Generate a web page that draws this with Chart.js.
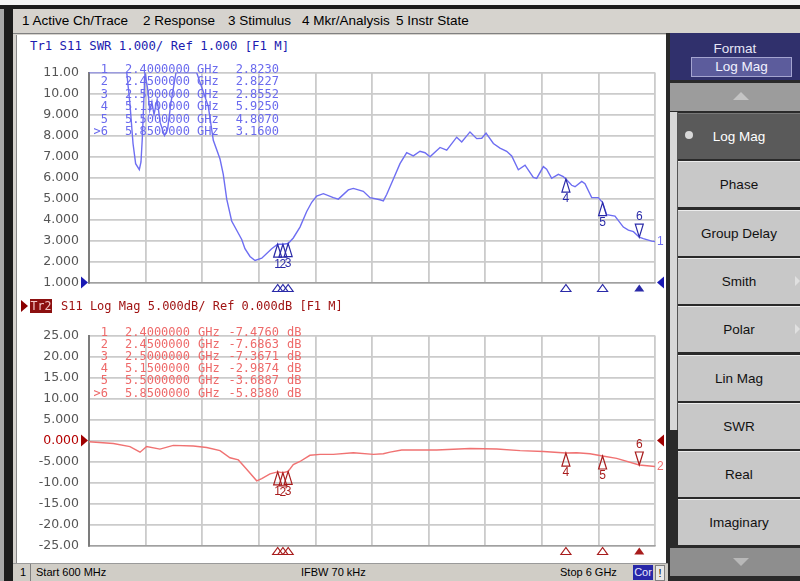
<!DOCTYPE html>
<html><head><meta charset="utf-8">
<script src="https://cdn.jsdelivr.net/npm/chart.js@4.4.1/dist/chart.umd.min.js"></script>
<style>
html,body{margin:0;padding:0;}
body{width:800px;height:581px;position:relative;overflow:hidden;background:#fff;font-family:"Liberation Sans",Arial,sans-serif;}
.b{position:absolute;}
.t{position:absolute;white-space:pre;line-height:14px;}
.mono{font-family:"DejaVu Sans Mono",monospace;font-size:12px;}
canvas{position:absolute;}
.btn{position:absolute;left:678px;width:122px;height:45px;background:#c8c8c8;border-top:1px solid #ececec;color:#111;font-size:13.5px;line-height:45px;text-align:center;}
</style></head><body>
<div class="b" style="left:0;top:0;width:800px;height:5px;background:#f4f4f4"></div>
<div class="b" style="left:0;top:5px;width:800px;height:4px;background:#1c1c1c"></div>
<div class="b" style="left:0;top:9px;width:4px;height:572px;background:#a8a8a8"></div>
<div class="b" style="left:4px;top:9px;width:9px;height:572px;background:#1c1c1c"></div>
<div class="b" id="menu" style="left:13px;top:9px;width:787px;height:24px;background:#d6d3ce;border-bottom:1px solid #808080"></div>
<div class="b" style="left:13px;top:34px;width:655px;height:529px;background:#d6d3ce"></div>
<div class="b" style="left:16px;top:35px;width:651px;height:528px;background:#fff;border-left:1px solid #8a8a8a"></div>
<div class="b" id="right" style="left:666px;top:33px;width:134px;height:548px;background:#2a2a2a"></div>
<canvas id="c1" width="650" height="245" style="left:18px;top:55px"></canvas>
<canvas id="c2" width="650" height="245" style="left:18px;top:318px"></canvas>
<div class="b" id="status" style="left:13px;top:563px;width:655px;height:18px;background:#d0cdc6;border-top:1px solid #9a9a9a"></div>
<script>
// ---- data ----
const topFreq = [0.60,0.96,0.99,1.02,1.045,1.08,1.096,1.109,1.122,1.134,1.16,1.18,1.20,1.22,1.25,1.28,1.32,1.35,1.38,1.43,1.627,1.738,1.786,1.85,1.881,1.914,1.961,2.009,2.057,2.088,2.136,2.184,2.248,2.343,2.40,2.45,2.50,2.549,2.613,2.677,2.725,2.772,2.836,2.931,2.979,3.074,3.122,3.217,3.281,3.376,3.408,3.44,3.503,3.567,3.631,3.694,3.758,3.806,3.853,3.949,4.013,4.108,4.156,4.235,4.299,4.347,4.388,4.458,4.521,4.585,4.633,4.696,4.760,4.839,4.871,4.935,4.966,5.014,5.078,5.125,5.15,5.205,5.237,5.301,5.332,5.396,5.459,5.50,5.539,5.618,5.698,5.746,5.794,5.85,5.889,5.969,6.00];
const topSwr  = [11,11,9.54,7.62,6.66,6.37,6.74,7.92,9.54,11,10.2,9.2,9.6,9.0,9.7,8.6,8.0,8.3,9.5,11,11,9.39,7.77,6.88,6.15,4.97,3.93,3.49,3.05,2.61,2.24,2.05,2.16,2.61,2.823,2.8227,2.8552,3.12,3.64,4.38,4.82,5.12,5.23,5.04,4.97,5.41,5.48,5.34,5.04,4.94,4.89,5.19,5.92,6.66,7.18,7.03,7.25,7.18,6.99,7.43,7.30,7.92,7.69,8.17,7.85,7.87,8.11,7.62,7.40,7.25,7.03,6.37,6.59,6.00,5.96,6.52,6.40,5.96,6.15,6.04,5.925,5.63,5.56,5.81,5.70,5.04,5.04,4.807,4.23,4.16,3.64,3.49,3.42,3.16,3.09,2.97,2.95];
const botFreq = [0.60,0.832,0.991,1.087,1.15,1.277,1.404,1.595,1.723,1.85,1.945,2.025,2.104,2.20,2.248,2.327,2.40,2.45,2.50,2.549,2.613,2.708,2.804,2.931,3.122,3.313,3.408,3.472,3.583,3.917,4.235,4.49,4.713,4.935,5.15,5.253,5.38,5.50,5.634,5.85,6.00];
const botDb   = [-0.3,-0.7,-1.44,-2.78,-1.44,-2.04,-1.15,-1.30,-1.67,-2.40,-4.11,-4.63,-6.85,-9.6,-9.07,-7.96,-7.476,-7.6863,-7.3671,-5.74,-5.0,-3.52,-3.30,-3.30,-2.93,-3.30,-3.15,-2.78,-2.26,-2.26,-1.89,-2.04,-2.41,-2.63,-2.9874,-2.93,-3.15,-3.6887,-4.26,-5.838,-6.2];
const markerFreq = [2.40,2.45,2.50,5.15,5.50,5.85];
const markerSwr  = [2.8230,2.8227,2.8552,5.9250,4.8070,3.1600];
const markerDb   = [-7.4760,-7.6863,-7.3671,-2.9874,-3.6887,-5.8380];
const activeMarker = 5;
const xGridGHz = [0.6,1.14,1.68,2.22,2.76,3.3,3.84,4.38,4.92,5.46,6.0];
const topYTicks = [11,10,9,8,7,6,5,4,3,2,1];
const botYTicks = [25,20,15,10,5,0,-5,-10,-15,-20,-25];
const menuItems = [["1 Active Ch/Trace",22],["2 Response",143],["3 Stimulus",228],["4 Mkr/Analysis",302],["5 Instr State",396]];
const softkeys = ["Log Mag","Phase","Group Delay","Smith","Polar","Lin Mag","SWR","Real","Imaginary"];

// ---- helpers ----
function addDiv(txt, css, cls){ const d=document.createElement('div'); d.className=cls||'t'; d.textContent=txt; Object.assign(d.style,css); document.body.appendChild(d); return d; }
function tri(css){ const d=document.createElement('div'); d.className='b'; Object.assign(d.style,{width:'0',height:'0'},css); document.body.appendChild(d); return d; }

// menu
menuItems.forEach(([s,x])=>addDiv(s,{left:x+'px',top:'14px',fontSize:'13.5px',color:'#000'}));

// right panel
addDiv('',{left:'670px',top:'33px',width:'130px',height:'47px',background:'#30306c'},'b');
addDiv('Format',{left:'670px',top:'42px',width:'130px',textAlign:'center',fontSize:'13.5px',color:'#e6e6f6'});
addDiv('Log Mag',{left:'691px',top:'57px',width:'99px',height:'18px',lineHeight:'18px',textAlign:'center',fontSize:'13.5px',color:'#f2f2ff',background:'#5c5c9c',border:'1px solid #a4a4d0'});
addDiv('',{left:'670px',top:'83px',width:'130px',height:'28px',background:'#9c9c9c'},'b');
tri({left:'733px',top:'92px',borderLeft:'8px solid transparent',borderRight:'8px solid transparent',borderBottom:'8px solid #c4c4c4'});
addDiv('',{left:'670px',top:'112px',width:'7px',height:'318px',background:'#d8d8d8',borderRight:'1px solid #555'},'b');
softkeys.forEach((s,i)=>{
  const d=addDiv(s,{top:(113+i*48.3)+'px'},'btn');
  if(i===0){ d.style.background='#5a5a5a'; d.style.color='#fff'; d.style.borderTop='1px solid #777';
    addDiv('',{left:'685px',top:(113+22-4)+'px',width:'8px',height:'8px',borderRadius:'4px',background:'#d8d8d8'},'b'); }
  if(s==='Smith'||s==='Polar'){ tri({left:'795px',top:(113+i*48.3+18)+'px',borderTop:'5px solid transparent',borderBottom:'5px solid transparent',borderLeft:'5px solid #e0e0e0'}); }
});
addDiv('',{left:'670px',top:'548px',width:'130px',height:'28px',background:'#8e8e8e'},'b');
tri({left:'733px',top:'558px',borderLeft:'8px solid transparent',borderRight:'8px solid transparent',borderTop:'8px solid #b8b8b8'});

// status bar
addDiv('1',{left:'20px',top:'565px',fontSize:'11px',color:'#000'});
addDiv('',{left:'30px',top:'564px',width:'1px',height:'17px',background:'#808080'},'b');
addDiv('Start 600 MHz',{left:'36px',top:'565px',fontSize:'11px',color:'#000'});
addDiv('IFBW 70 kHz',{left:'301px',top:'565px',fontSize:'11px',color:'#000'});
addDiv('Stop 6 GHz',{left:'560px',top:'565px',fontSize:'11px',color:'#000'});
addDiv('Cor',{left:'633px',top:'565px',width:'20px',height:'15px',lineHeight:'15px',textAlign:'center',fontSize:'11px',color:'#e8e8ff',background:'#2828a8'});
addDiv('!',{left:'655px',top:'565px',width:'8px',height:'14px',lineHeight:'14px',textAlign:'center',fontSize:'11px',color:'#000',border:'1px solid #808080',background:'#e8e8e8'});

// titles
addDiv('Tr1 S11 SWR 1.000/ Ref 1.000 [F1 M]',{left:'30px',top:'39px',fontSize:'12.3px',color:'#1c1cb0'},'t mono');
tri({left:'21px',top:'300px',borderTop:'6px solid transparent',borderBottom:'6px solid transparent',borderLeft:'7px solid #8a0000'});
addDiv('Tr2',{left:'30px',top:'299px',width:'22px',height:'14px',textAlign:'center',fontSize:'11.5px',color:'#f4c8c8',background:'#8c1010'},'t mono');
addDiv('S11 Log Mag 5.000dB/ Ref 0.000dB [F1 M]',{left:'61px',top:'299px',fontSize:'12px',color:'#a01414'},'t mono');

// marker tables
markerFreq.forEach((f,i)=>{
  const lab = (i===activeMarker?'>':'')+(i+1);
  const yt = 62 + i*12.4, yb = 325 + i*12.1;
  const ct = {fontSize:'12px',color:'#6a6aee'}, cb = {fontSize:'12px',color:'#ee6a6a'};
  addDiv(lab,Object.assign({right:(800-108)+'px',top:yt+'px'},ct),'t mono');
  addDiv(f.toFixed(7),Object.assign({left:'125px',top:yt+'px'},ct),'t mono');
  addDiv('GHz',Object.assign({left:'197px',top:yt+'px'},ct),'t mono');
  addDiv(markerSwr[i].toFixed(4),Object.assign({right:(800-279)+'px',top:yt+'px'},ct),'t mono');
  addDiv(lab,Object.assign({right:(800-108)+'px',top:yb+'px'},cb),'t mono');
  addDiv(f.toFixed(7),Object.assign({left:'125px',top:yb+'px'},cb),'t mono');
  addDiv('GHz',Object.assign({left:'198px',top:yb+'px'},cb),'t mono');
  addDiv(markerDb[i].toFixed(4),Object.assign({right:(800-279)+'px',top:yb+'px'},cb),'t mono');
  addDiv('dB',Object.assign({left:'287px',top:yb+'px'},cb),'t mono');
});

// ---- charts ----
function fmt(v){ return (Math.abs(v)>=10) ? v.toFixed(2) : v.toFixed(3); }
function vnaPlugin(o){ return {
  id:'vna'+o.key,
  afterDatasetsDraw(chart){
    const ctx=chart.ctx, xs=chart.scales.x, ys=chart.scales.y, a=chart.chartArea;
    ctx.save();
    ctx.font='12px "Liberation Sans", Arial, sans-serif';
    ctx.textAlign='center'; ctx.textBaseline='middle';
    markerFreq.forEach((f,i)=>{
      const x=xs.getPixelForValue(f), y=ys.getPixelForValue(o.vals[i]);
      ctx.strokeStyle=o.mk; ctx.fillStyle=o.mk; ctx.lineWidth=1.2;
      ctx.beginPath();
      if(i===activeMarker){
        ctx.moveTo(x,y); ctx.lineTo(x-4,y-13); ctx.lineTo(x+4,y-13); ctx.closePath(); ctx.stroke();
        ctx.fillText(String(i+1),x,y-20);
      } else {
        ctx.moveTo(x,y); ctx.lineTo(x-4,y+13); ctx.lineTo(x+4,y+13); ctx.closePath(); ctx.stroke();
        ctx.fillText(String(i+1),x,y+20);
      }
      const by=a.bottom+2;
      ctx.beginPath(); ctx.moveTo(x,by); ctx.lineTo(x-5,by+7); ctx.lineTo(x+5,by+7); ctx.closePath();
      if(i===activeMarker) ctx.fill(); else ctx.stroke();
    });
    const ry=ys.getPixelForValue(o.ref);
    ctx.fillStyle=o.refc;
    ctx.beginPath(); ctx.moveTo(a.left-8,ry-6); ctx.lineTo(a.left-1,ry); ctx.lineTo(a.left-8,ry+6); ctx.closePath(); ctx.fill();
    ctx.beginPath(); ctx.moveTo(a.right+9,ry-6); ctx.lineTo(a.right+2,ry); ctx.lineTo(a.right+9,ry+6); ctx.closePath(); ctx.fill();
    ctx.fillStyle=o.line; ctx.textAlign='left';
    ctx.fillText(o.traceNo, a.right+2, ys.getPixelForValue(o.last));
    ctx.restore();
  }
};}
function makeChart(id, xs, ys, yTicks, line, o, padB){
  return new Chart(document.getElementById(id), {
    type:'line',
    data:{datasets:[{data:xs.map((f,i)=>({x:f,y:ys[i]})), borderColor:line, borderWidth:1.4, pointRadius:0, tension:0, fill:false}]},
    options:{
      responsive:false, animation:false, devicePixelRatio:1,
      layout:{padding:{top:7,right:13,bottom:padB,left:0}},
      plugins:{legend:{display:false}, tooltip:{enabled:false}},
      scales:{
        x:{type:'linear', min:xGridGHz[0], max:xGridGHz[xGridGHz.length-1],
           afterBuildTicks:s=>{ s.ticks=xGridGHz.map(v=>({value:v})); },
           ticks:{display:false}, grid:{color:'#cbcbcb', lineWidth:1.8, drawTicks:false},
           border:{display:true, color:'#a0a0a0', width:1.5}, afterFit:s=>{ s.height=0; }},
        y:{min:yTicks[yTicks.length-1], max:yTicks[0],
           afterBuildTicks:s=>{ s.ticks=yTicks.slice().reverse().map(v=>({value:v})); },
           ticks:{callback:v=>fmt(v), color:c=>(o.refTickRed && c.tick && c.tick.value===0)?'#b40000':'#555555',
                  font:{family:'DejaVu Sans', size:12.5}, padding:10},
           grid:{color:'#cbcbcb', lineWidth:1.8, drawTicks:false},
           border:{display:true, color:'#7c7c7c', width:2}, afterFit:s=>{ s.width=71; }}
      }
    },
    plugins:[vnaPlugin(o)]
  });
}
makeChart('c1', topFreq, topSwr, topYTicks, '#6e6ef2',
  {key:1, vals:markerSwr, mk:'#2a2aa8', ref:1, refc:'#1a1ab4', line:'#6e6ef2', traceNo:'1', last:topSwr[topSwr.length-1], refTickRed:false}, 12);
makeChart('c2', botFreq, botDb, botYTicks, '#f07272',
  {key:2, vals:markerDb, mk:'#a81c1c', ref:0, refc:'#a00000', line:'#f07272', traceNo:'2', last:botDb[botDb.length-1], refTickRed:true}, 13);
</script>
</body></html>
